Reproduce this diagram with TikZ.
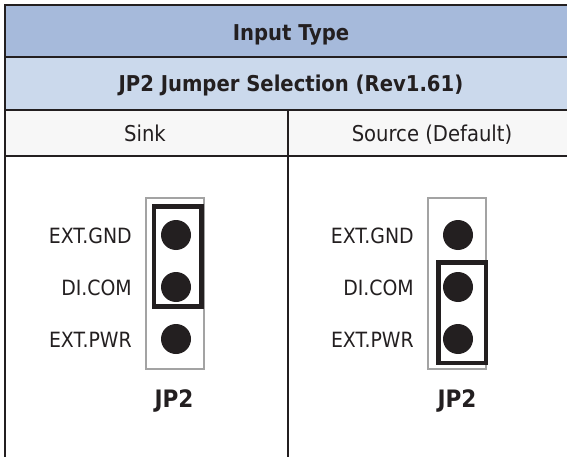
\documentclass[tikz,border=0pt]{standalone}
\usepackage{fontspec}
\setmainfont{DejaVu Sans Condensed}
\definecolor{ink}{HTML}{231F20}
\definecolor{hdrA}{HTML}{A6BADB}
\definecolor{hdrB}{HTML}{CBD9EC}
\definecolor{hdrC}{HTML}{F7F7F7}
\definecolor{pinframe}{HTML}{A3A3A3}
\begin{document}
\begin{tikzpicture}[x=1pt,y=-1pt,
  every node/.style={text=ink, inner sep=0pt},
  headtxt/.style={font=\fontsize{21.8}{24}\selectfont\bfseries, anchor=base},
  coltxt/.style={font=\fontsize{21.8}{24}\selectfont, anchor=base},
  lbl/.style={font=\fontsize{21}{24}\selectfont, anchor=base east},
  jplbl/.style={font=\fontsize{24}{26}\selectfont\bfseries, anchor=base},
  pin/.style={circle, fill=ink, minimum size=30pt, inner sep=0pt},
  rule/.style={draw=ink, line width=1.2pt},
  frame/.style={draw=ink, line width=2.2pt},
  header/.style={draw=pinframe, line width=2pt},
  jumper/.style={draw=ink, line width=4.5pt}]
\useasboundingbox (0,0) rectangle (567,457);
\clip (0,0) rectangle (567,457);
% row fills
\fill[hdrA] (5,5) rectangle (576,57);
\fill[hdrB] (5,57) rectangle (576,110);
\fill[hdrC] (5,110) rectangle (576,156);
% rules
\draw[rule] (5,57) -- (576,57);
\draw[rule] (5,110) -- (576,110);
\draw[frame] (5,156) -- (576,156);
\draw[frame] (288,110) -- (288,460);
\draw[frame] (5,460) -- (5,5) -- (576,5) -- (576,460);
% header texts
\node[headtxt] (title) at (291,41) {Input Type};
\node[headtxt] (sub) at (291,91.5) {JP2 Jumper Selection (Rev1.61)};
\node[coltxt] (sink) at (145,141.5) {Sink};
\node[coltxt] (source) at (432,141.5) {Source (Default)};
% left: sink
\draw[header] (146,197.5) rectangle (204,368.5);
\node[pin] (a1) at (176,235) {};
\node[pin] (a2) at (176,287) {};
\node[pin] (a3) at (176,339) {};
\draw[jumper] (154.2,206.5) rectangle (201.5,306.5);
\node[lbl] (agnd) at (132,243) {EXT.GND};
\node[lbl] (acom) at (132,295) {DI.COM};
\node[lbl] (apwr) at (132,347) {EXT.PWR};
\node[jplbl] (ajp) at (174,407) {JP2};
% right: source
\draw[header] (428,197.5) rectangle (486,368.5);
\node[pin] (b1) at (458,235) {};
\node[pin] (b2) at (458,287) {};
\node[pin] (b3) at (458,339) {};
\draw[jumper] (438.5,262.5) rectangle (485.8,363);
\node[lbl] (bgnd) at (414,243) {EXT.GND};
\node[lbl] (bcom) at (414,295) {DI.COM};
\node[lbl] (bpwr) at (414,347) {EXT.PWR};
\node[jplbl] (bjp) at (457,407) {JP2};
\end{tikzpicture}
\end{document}
